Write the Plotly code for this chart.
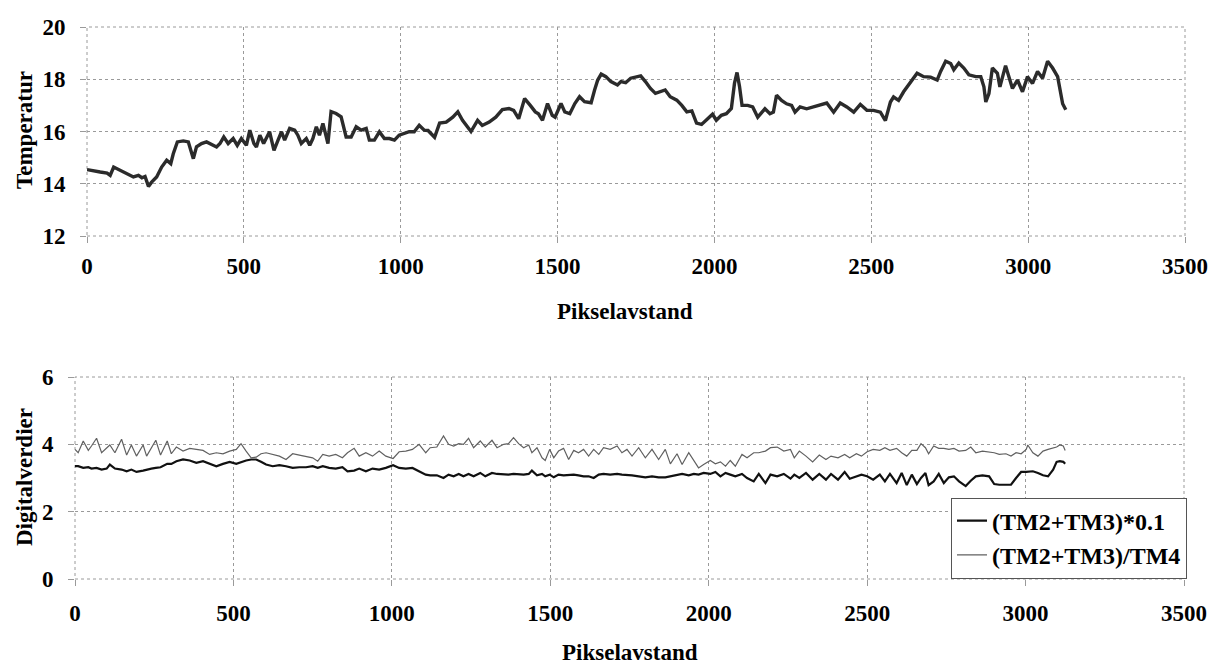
import plotly.graph_objects as go

# ---------------- Top chart: Temperatur ----------------
temp_x = [0, 21, 42, 64, 74, 85, 95, 116, 138, 148, 164, 175, 185, 196, 206, 222, 238, 254, 267, 275,
          288, 307, 323, 334, 339, 349, 365, 381, 397, 413, 424, 436, 450, 466, 479, 492, 508, 519, 532, 540,
          551, 563, 582, 596, 609, 620, 630, 646, 662, 672, 683, 699, 710, 720, 731, 741, 752, 768, 778, 794,
          810, 826, 842, 858, 874, 890, 900, 916, 932, 948, 964, 980, 995, 1011, 1027, 1043, 1059, 1075, 1087, 1108,
          1124, 1145, 1166, 1182, 1197, 1224, 1245, 1260, 1282, 1303, 1324, 1345, 1360, 1376, 1395, 1413, 1429, 1439, 1452, 1468,
          1483, 1492, 1511, 1523, 1539, 1555, 1570, 1586, 1607, 1618, 1628, 1639, 1654, 1670, 1691, 1702, 1717, 1733, 1749, 1765,
          1780, 1796, 1812, 1828, 1843, 1859, 1880, 1896, 1912, 1928, 1943, 1959, 1975, 1994, 2006, 2022, 2038, 2054, 2064, 2072,
          2080, 2088, 2106, 2122, 2138, 2154, 2161, 2177, 2188, 2198, 2214, 2230, 2246, 2257, 2273, 2294, 2316, 2337, 2358, 2380,
          2401, 2422, 2444, 2465, 2486, 2507, 2529, 2545, 2561, 2571, 2587, 2603, 2619, 2635, 2646, 2667, 2689, 2710, 2721, 2737,
          2753, 2763, 2779, 2795, 2811, 2833, 2849, 2859, 2865, 2875, 2886, 2902, 2910, 2928, 2939, 2950, 2966, 2982, 2998, 3014,
          3030, 3046, 3062, 3078, 3094, 3104, 3110, 3120]
temp_y = [14.54, 14.51, 14.45, 14.41, 14.32, 14.64, 14.58, 14.45, 14.32, 14.26, 14.32, 14.23, 14.28, 13.90, 14.06, 14.26, 14.64, 14.90, 14.77, 15.15,
          15.60, 15.64, 15.60, 15.15, 14.96, 15.41, 15.54, 15.60, 15.51, 15.41, 15.54, 15.79, 15.54, 15.73, 15.47, 15.73, 15.47, 16.05, 15.54, 15.41,
          15.86, 15.54, 15.99, 15.28, 15.67, 15.99, 15.67, 16.12, 16.05, 15.86, 15.54, 15.73, 15.47, 15.73, 16.18, 15.86, 16.31, 15.54, 16.76, 16.69,
          16.56, 15.79, 15.79, 16.18, 16.05, 16.12, 15.67, 15.67, 15.99, 15.73, 15.73, 15.67, 15.86, 15.92, 15.99, 15.99, 16.24, 16.05, 16.04, 15.78,
          16.32, 16.36, 16.55, 16.75, 16.43, 16.00, 16.43, 16.23, 16.36, 16.55, 16.84, 16.88, 16.81, 16.49, 17.26, 17.00, 16.75, 16.68, 16.43, 17.07,
          16.62, 16.55, 17.07, 16.75, 16.68, 17.07, 17.33, 17.14, 17.10, 17.59, 17.97, 18.20, 18.10, 17.91, 17.78, 17.91, 17.87, 18.04, 18.08, 18.13,
          17.91, 17.65, 17.46, 17.52, 17.59, 17.33, 17.20, 17.00, 16.75, 16.79, 16.32, 16.27, 16.43, 16.66, 16.43, 16.62, 16.68, 16.88, 17.85, 18.26,
          17.72, 17.00, 17.00, 16.94, 16.55, 16.75, 16.87, 16.68, 16.74, 17.39, 17.19, 17.06, 17.00, 16.74, 16.94, 16.87, 16.94, 17.00, 17.09, 16.74,
          17.09, 16.94, 16.74, 17.04, 16.81, 16.81, 16.74, 16.42, 17.13, 17.32, 17.19, 17.52, 17.78, 18.04, 18.23, 18.10, 18.08, 17.97, 18.30, 18.69,
          18.60, 18.36, 18.62, 18.43, 18.17, 18.10, 18.10, 17.71, 17.13, 17.45, 18.43, 18.23, 17.71, 18.52, 18.10, 17.65, 17.97, 17.52, 18.10, 17.84,
          18.30, 18.04, 18.69, 18.43, 18.10, 17.45, 17.06, 16.83]

# ---------------- Bottom chart: Digitalverdier ----------------
dig_x = [0, 10, 26, 42, 52, 68, 84, 100, 110, 126, 147, 163, 178, 194, 215, 226, 241, 255, 270, 291,
         304, 320, 341, 362, 383, 404, 425, 446, 467, 488, 509, 524, 540, 556, 572, 587, 603, 624, 645, 666,
         687, 708, 729, 750, 766, 782, 802, 823, 844, 860, 881, 897, 918, 939, 960, 981, 1004, 1023, 1044, 1065,
         1086, 1107, 1121, 1142, 1163, 1179, 1195, 1211, 1226, 1242, 1258, 1279, 1295, 1316, 1332, 1353, 1368, 1384, 1400, 1416,
         1432, 1442, 1458, 1474, 1484, 1498, 1511, 1526, 1542, 1558, 1574, 1589, 1605, 1621, 1637, 1653, 1668, 1689, 1711, 1726,
         1742, 1758, 1779, 1800, 1821, 1842, 1863, 1879, 1900, 1916, 1937, 1953, 1968, 1984, 2005, 2021, 2037, 2053, 2068, 2084,
         2105, 2121, 2142, 2158, 2179, 2195, 2216, 2237, 2258, 2270, 2286, 2307, 2328, 2349, 2370, 2386, 2408, 2429, 2445, 2466,
         2482, 2500, 2519, 2540, 2556, 2572, 2593, 2609, 2625, 2641, 2657, 2670, 2684, 2694, 2710, 2726, 2742, 2758, 2774, 2790,
         2811, 2827, 2843, 2864, 2885, 2901, 2917, 2938, 2954, 2970, 2986, 3002, 3007, 3023, 3039, 3055, 3071, 3087, 3098, 3108,
         3119, 3125]
tm23_scaled = [3.35, 3.35, 3.30, 3.32, 3.28, 3.30, 3.25, 3.28, 3.40, 3.28, 3.25, 3.20, 3.25, 3.18, 3.22, 3.25, 3.28, 3.30, 3.32, 3.42,
               3.42, 3.50, 3.55, 3.52, 3.45, 3.50, 3.42, 3.35, 3.42, 3.48, 3.42, 3.48, 3.52, 3.55, 3.55, 3.48, 3.40, 3.35, 3.38, 3.35,
               3.30, 3.32, 3.32, 3.35, 3.30, 3.35, 3.30, 3.28, 3.32, 3.20, 3.22, 3.28, 3.20, 3.28, 3.25, 3.30, 3.38, 3.30, 3.28, 3.30,
               3.20, 3.10, 3.08, 3.08, 3.00, 3.10, 3.05, 3.12, 3.05, 3.12, 3.05, 3.15, 3.05, 3.15, 3.12, 3.10, 3.10, 3.12, 3.10, 3.10,
               3.12, 3.22, 3.08, 3.12, 3.05, 3.10, 3.02, 3.10, 3.08, 3.10, 3.10, 3.08, 3.05, 3.05, 3.00, 3.10, 3.12, 3.10, 3.12, 3.10,
               3.10, 3.08, 3.05, 3.02, 3.05, 3.02, 3.02, 3.05, 3.10, 3.12, 3.08, 3.12, 3.10, 3.15, 3.12, 3.18, 3.05, 3.15, 3.10, 3.05,
               3.12, 3.00, 2.90, 3.12, 2.85, 3.10, 3.05, 3.12, 2.98, 3.10, 3.00, 3.15, 2.95, 3.12, 2.95, 3.12, 2.95, 3.18, 2.98, 3.05,
               3.10, 3.05, 2.95, 3.10, 2.90, 3.12, 2.85, 3.15, 2.79, 3.10, 2.82, 3.00, 3.15, 2.79, 2.90, 3.12, 2.85, 3.02, 3.05, 2.90,
               2.76, 2.92, 3.05, 3.08, 3.05, 2.82, 2.80, 2.80, 2.80, 3.00, 3.18, 3.18, 3.18, 3.20, 3.15, 3.08, 3.05, 3.25, 3.48, 3.50,
               3.48, 3.42]
tm23_tm4 = [3.85, 3.75, 4.10, 3.82, 3.95, 4.18, 3.75, 3.88, 3.98, 3.75, 4.15, 3.68, 3.98, 3.65, 3.98, 3.65, 3.88, 4.12, 3.68, 4.10,
            3.72, 3.92, 3.80, 3.88, 3.85, 3.82, 3.70, 3.75, 3.72, 3.80, 3.85, 4.02, 3.80, 3.60, 3.62, 3.72, 3.75, 3.70, 3.65, 3.55,
            3.72, 3.68, 3.65, 3.60, 3.50, 3.70, 3.65, 3.70, 3.60, 3.75, 3.88, 3.65, 3.75, 3.65, 3.80, 3.65, 3.58, 3.78, 3.80, 3.85,
            4.00, 3.75, 3.90, 3.92, 4.25, 4.00, 3.95, 4.02, 4.00, 4.18, 3.90, 4.10, 3.92, 4.12, 3.90, 4.00, 4.02, 4.20, 4.02, 3.90,
            3.98, 3.75, 3.90, 3.60, 3.52, 3.85, 3.60, 3.80, 3.88, 3.55, 3.82, 3.75, 3.85, 3.65, 3.85, 3.70, 3.90, 3.85, 3.95, 3.75,
            3.85, 3.65, 3.90, 3.60, 3.85, 3.55, 3.85, 3.42, 3.72, 3.40, 3.75, 3.50, 3.30, 3.40, 3.52, 3.42, 3.48, 3.35, 3.52, 3.35,
            3.70, 3.60, 3.75, 3.75, 3.80, 3.90, 3.92, 3.80, 3.85, 3.60, 3.80, 3.65, 3.48, 3.68, 3.55, 3.65, 3.60, 3.70, 3.60, 3.72,
            3.65, 3.78, 3.85, 3.82, 3.90, 3.82, 3.88, 3.75, 3.65, 3.82, 3.82, 4.02, 3.90, 3.72, 3.95, 3.88, 3.88, 3.85, 3.88, 3.80,
            3.82, 3.92, 3.75, 3.80, 3.78, 3.75, 3.70, 3.72, 3.65, 3.75, 3.72, 3.85, 3.98, 3.75, 3.65, 3.80, 3.85, 3.88, 3.92, 3.98,
            3.95, 3.82]

x_ticks = [0, 500, 1000, 1500, 2000, 2500, 3000, 3500]
temp_ticks = [12, 14, 16, 18, 20]
dig_ticks = [0, 2, 4, 6]

W, H = 1213, 665
FONT = "Liberation Serif"
GRID = "#9a9a9a"
FS = 23
bold = dict(family=FONT, size=FS, color="black", weight="bold")

fig = go.Figure()
fig.add_trace(go.Scatter(x=temp_x, y=temp_y, mode="lines", showlegend=False,
                         line=dict(color="#2b2b2b", width=3.4), xaxis="x", yaxis="y"))
fig.add_trace(go.Scatter(x=dig_x, y=tm23_scaled, mode="lines", name="(TM2+TM3)*0.1",
                         line=dict(color="#111111", width=2.2), xaxis="x2", yaxis="y2"))
fig.add_trace(go.Scatter(x=dig_x, y=tm23_tm4, mode="lines", name="(TM2+TM3)/TM4",
                         line=dict(color="#606060", width=1.2), xaxis="x2", yaxis="y2"))

axis_common = dict(showgrid=True, gridcolor=GRID, griddash="dot", gridwidth=1,
                   zeroline=False, showline=False, ticks="outside", ticklen=6,
                   tickcolor=GRID, tickfont=bold, automargin=False)

fig.update_layout(
    width=W, height=H,
    margin=dict(l=0, r=0, t=0, b=0),
    paper_bgcolor="white", plot_bgcolor="white",
    font=bold,
    xaxis=dict(domain=[87 / W, 1185 / W], range=[0, 3500], tickvals=x_ticks,
               ticklabelstandoff=3, anchor="y", **axis_common),
    yaxis=dict(domain=[(H - 236) / H, (H - 27) / H], range=[12, 20], tickvals=temp_ticks,
               ticklabelstandoff=10, anchor="x", **axis_common),
    xaxis2=dict(domain=[75 / W, 1184 / W], range=[0, 3500], tickvals=x_ticks,
                ticklabelstandoff=7, anchor="y2", **axis_common),
    yaxis2=dict(domain=[(H - 579) / H, (H - 377) / H], range=[0, 6], tickvals=dig_ticks,
                ticklabelstandoff=10, anchor="x2", **axis_common),
    legend=dict(x=1187 / W, y=(H - 538) / H, xanchor="right", yanchor="middle",
                bgcolor="white", bordercolor="#555555", borderwidth=1,
                font=dict(family=FONT, size=24, color="black", weight="bold"),
                tracegroupgap=0, itemwidth=30),
    shapes=[
        dict(type="rect", xref="x domain", yref="y domain", x0=0, x1=1, y0=0, y1=1,
             line=dict(color=GRID, width=1, dash="dot"), layer="below"),
        dict(type="rect", xref="x2 domain", yref="y2 domain", x0=0, x1=1, y0=0, y1=1,
             line=dict(color=GRID, width=1, dash="dot"), layer="below"),
    ],
    annotations=[
        dict(text="Pikselavstand", x=625 / W, y=(H - 312) / H, xref="paper", yref="paper",
             showarrow=False, xanchor="center", yanchor="middle", font=bold),
        dict(text="Pikselavstand", x=630 / W, y=(H - 652) / H, xref="paper", yref="paper",
             showarrow=False, xanchor="center", yanchor="middle", font=bold),
        dict(text="Temperatur", x=24 / W, y=(H - 130) / H, xref="paper", yref="paper",
             showarrow=False, xanchor="center", yanchor="middle", textangle=-90, font=bold),
        dict(text="Digitalverdier", x=24 / W, y=(H - 477) / H, xref="paper", yref="paper",
             showarrow=False, xanchor="center", yanchor="middle", textangle=-90, font=bold),
    ],
)

fig.write_html("out.html",
               config={"displayModeBar": False},
               post_script="document.body.style.margin='0';document.body.style.overflow='hidden';")
